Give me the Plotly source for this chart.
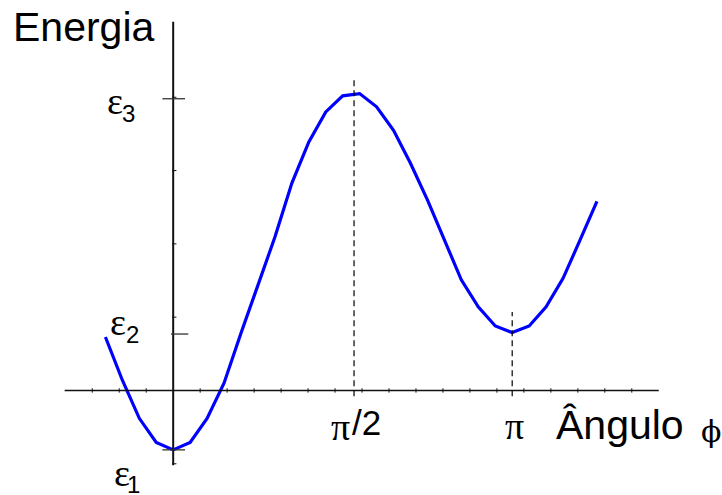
import plotly.graph_objects as go

# Sampled torsion angle (rad) and energy of the conformation
phi = [-0.628, -0.471, -0.314, -0.157, 0.000, 0.157, 0.314, 0.471, 0.628, 0.785,
       0.942, 1.100, 1.257, 1.414, 1.571, 1.728, 1.885, 2.042, 2.199, 2.356,
       2.513, 2.670, 2.827, 2.985, 3.142, 3.299, 3.456, 3.613, 3.770, 3.927]
energy = [0.73, 0.14, -0.38, -0.71, -0.81, -0.71, -0.38, 0.10, 0.78, 1.42,
          2.09, 2.83, 3.39, 3.80, 4.02, 4.05, 3.87, 3.55, 3.10, 2.60,
          2.05, 1.51, 1.14, 0.88, 0.79, 0.88, 1.14, 1.53, 2.05, 2.58]

# Energy levels marked on the vertical axis
level_names = ["ε1", "ε2", "ε3"]
level_values = [-0.81, 0.77, 3.98]

# Angles marked with dashed guides
angle_labels = ["π/2", "π"]
angle_values = [1.676, 3.1416]
angle_guide_tops = [4.28, 1.07]

# Small ticks on both axes
x_minor = [i * 0.25 for i in range(-3, 18) if i != 0]
y_minor = [-1, 1, 2, 3, 4]

W, H = 722, 495
XR = [-1.605, 5.086]
YR = [-1.426, 5.327]

fig = go.Figure()
fig.add_trace(go.Scatter(x=phi, y=energy, mode="lines",
                         line=dict(color="#0000ff", width=3.2),
                         hoverinfo="skip", showlegend=False))

shapes = []
axis_col = "#111111"
# axes
shapes.append(dict(type="line", xref="x", yref="y", x0=-1.006, x1=4.50, y0=0, y1=0,
                   line=dict(color=axis_col, width=1.6)))
shapes.append(dict(type="line", xref="x", yref="y", x0=0, x1=0, y0=-1.02, y1=5.03,
                   line=dict(color=axis_col, width=2)))
# minor ticks
for xv in x_minor:
    shapes.append(dict(type="line", xref="x", yref="y", x0=xv, x1=xv, y0=-0.03, y1=0.03,
                       line=dict(color=axis_col, width=1)))
for yv in y_minor:
    shapes.append(dict(type="line", xref="x", yref="y", x0=-0.01, x1=0.03, y0=yv, y1=yv,
                       line=dict(color=axis_col, width=1)))
# level ticks
level_extent = [(-0.10, 0.11), (-0.02, 0.14), (-0.10, 0.11)]
for yv, (a, b) in zip(level_values, level_extent):
    shapes.append(dict(type="line", xref="x", yref="y", x0=a, x1=b, y0=yv, y1=yv,
                       line=dict(color="#333333", width=1.3)))
# dashed guides
for xv, top in zip(angle_values, angle_guide_tops):
    shapes.append(dict(type="line", xref="x", yref="y", x0=xv, x1=xv, y0=-0.08, y1=top,
                       line=dict(color="#000000", width=1.2, dash="6px,4px")))

fig.update_layout(shapes=shapes)


def label(text, cx, cy, size, family, anchor="center"):
    fig.add_annotation(text=text, xref="paper", yref="paper",
                       x=cx / W, y=1 - cy / H, xanchor=anchor, yanchor="middle",
                       showarrow=False, font=dict(size=size, family=family, color="#000000"))


SANS = "Liberation Sans, Arial, sans-serif"
SERIF = "Liberation Serif, Times New Roman, serif"
GREEK = "DejaVu Serif, serif"

# axis titles
label("Energia", 11, 27, 41, SANS, anchor="left")
label("Ângulo", 554, 425, 41, SANS, anchor="left")
label("ϕ", 711, 431, 30, GREEK)

# level labels
eps_pos = [(122, 473, 133, 484), (118.5, 322, 132.7, 334), (114.7, 101, 128, 113.5)]
for name, (ex, ey, sx, sy) in zip(level_names, eps_pos):
    label(name[0], ex, ey, 38, SERIF)
    label(name[1], sx, sy, 24, SANS)

# angle labels
label("π", 340, 427, 38, SERIF)
label("/2", 350, 422, 35, SANS, anchor="left")
label("π", 514, 426, 38, SERIF)

fig.update_xaxes(range=XR, visible=False, fixedrange=True)
fig.update_yaxes(range=YR, visible=False, fixedrange=True)
fig.update_layout(width=W, height=H, margin=dict(l=0, r=0, t=0, b=0),
                  paper_bgcolor="white", plot_bgcolor="white", showlegend=False)

fig.write_html("out.html")
